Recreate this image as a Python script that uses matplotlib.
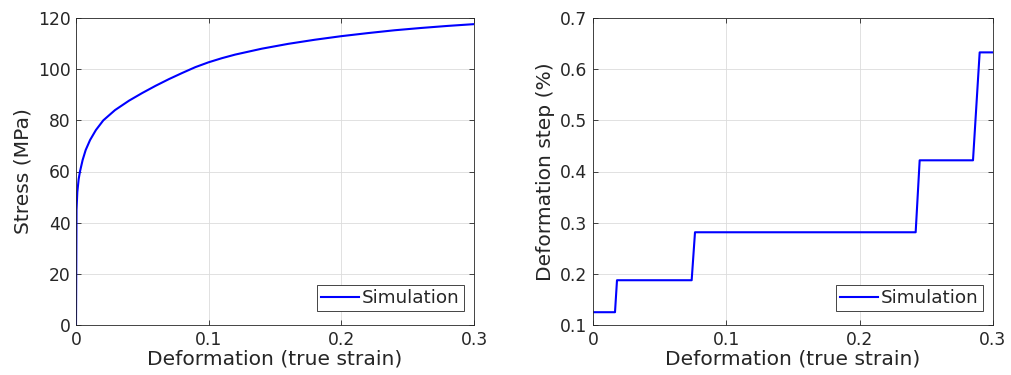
import matplotlib
matplotlib.use("Agg")
import matplotlib.pyplot as plt

# Left panel: stress-strain curve
strain = [0, 0.0004, 0.001, 0.002, 0.003, 0.005, 0.0073, 0.0106, 0.015, 0.0206,
          0.0294, 0.04, 0.05, 0.06, 0.07, 0.08, 0.09, 0.1, 0.11, 0.12, 0.14, 0.16,
          0.18, 0.2, 0.22, 0.24, 0.26, 0.28, 0.3]
stress = [0, 45, 52, 57, 60, 64.5, 68.4, 72.3, 76.2, 80,
          84, 87.7, 90.7, 93.5, 96.1, 98.5, 100.8, 102.7, 104.3, 105.7, 108.0, 109.9,
          111.5, 112.9, 114.1, 115.2, 116.1, 116.9, 117.6]

# Right panel: deformation step
step_strain = [0, 0.0165, 0.018, 0.074, 0.0765, 0.242, 0.245, 0.285, 0.29, 0.3]
step_value = [0.125, 0.125, 0.1875, 0.1875, 0.28125, 0.28125, 0.421875, 0.421875, 0.6328, 0.6328]

left_xticks = [0, 0.1, 0.2, 0.3]
left_yticks = [0, 20, 40, 60, 80, 100, 120]
right_yticks = [0.1, 0.2, 0.3, 0.4, 0.5, 0.6, 0.7]

TXT = "#262626"
plt.rcParams['font.family'] = ['DejaVu Sans']

fig = plt.figure(figsize=(10.11, 3.75), dpi=100)
axL = fig.add_axes([76/1011, 1-325/375, 398/1011, 307/375])
axR = fig.add_axes([593/1011, 1-325/375, 400/1011, 307/375])

def style(ax):
    for s in ax.spines.values():
        s.set_color(TXT)
        s.set_linewidth(0.6)
    ax.tick_params(direction='in', length=3.5, width=0.6, colors=TXT,
                   labelsize=12.3, top=True, right=True, pad=4)
    ax.grid(True, color='#dcdcdc', linewidth=0.6)
    ax.set_axisbelow(True)

axL.plot(strain, stress, color=(0, 0, 1), linewidth=1.5, label='Simulation')
axL.set_xlim(0, 0.3)
axL.set_ylim(0, 120)
axL.set_xticks(left_xticks)
axL.set_xticklabels(['0', '0.1', '0.2', '0.3'])
axL.set_yticks(left_yticks)
axL.set_xlabel('Deformation (true strain)', fontsize=14.6, color=TXT, labelpad=1)
axL.set_ylabel('Stress (MPa)', fontsize=14.6, color=TXT, labelpad=4)
style(axL)

axR.plot(step_strain, step_value, color=(0, 0, 1), linewidth=1.5, label='Simulation')
axR.set_xlim(0, 0.3)
axR.set_ylim(0.1, 0.7)
axR.set_xticks(left_xticks)
axR.set_xticklabels(['0', '0.1', '0.2', '0.3'])
axR.set_yticks(right_yticks)
axR.set_yticklabels(['0.1', '0.2', '0.3', '0.4', '0.5', '0.6', '0.7'])
axR.set_xlabel('Deformation (true strain)', fontsize=14.6, color=TXT, labelpad=1)
axR.set_ylabel('Deformation step (%)', fontsize=14.6, color=TXT, labelpad=4)
style(axR)

for ax, w in ((axL, 398), (axR, 400)):
    leg = ax.legend(loc='lower right', fontsize=13.2, fancybox=False,
                    framealpha=1, edgecolor=TXT, borderpad=0.22,
                    handlelength=2.05, handletextpad=0.17, borderaxespad=0,
                    bbox_to_anchor=(1 - 10.5/w, 14/307))
    leg.get_frame().set_linewidth(0.6)
    for t in leg.get_texts():
        t.set_color(TXT)

fig.savefig('out.png', dpi=100)
